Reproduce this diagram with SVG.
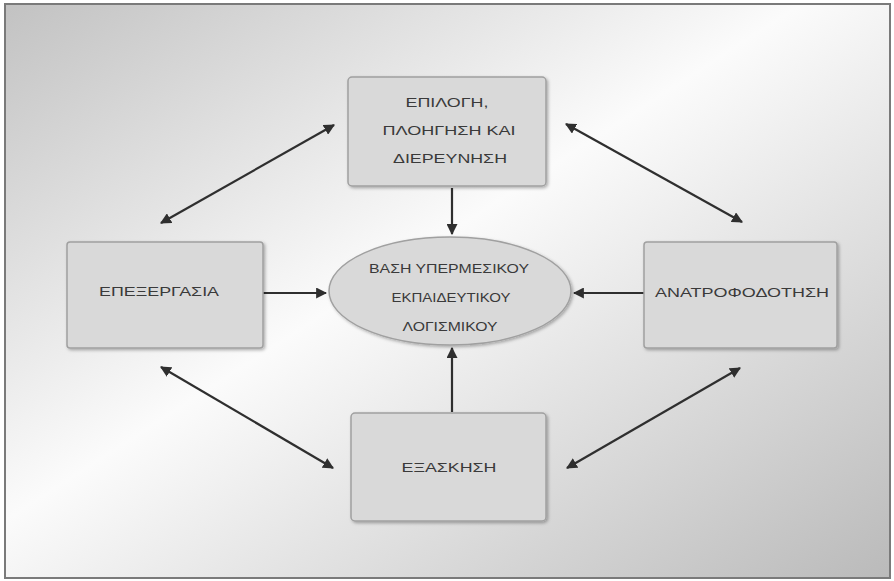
<svg xmlns="http://www.w3.org/2000/svg" width="894" height="581" viewBox="0 0 894 581">
<defs>
<linearGradient id="bg" x1="0" y1="0" x2="1" y2="1">
<stop offset="0" stop-color="#c2c2c2"/>
<stop offset="0.45" stop-color="#fbfbfb"/>
<stop offset="1" stop-color="#bababa"/>
</linearGradient>
<filter id="sh" x="-10%" y="-10%" width="120%" height="120%">
<feDropShadow dx="1.5" dy="1.5" stdDeviation="1.5" flood-color="#000" flood-opacity="0.3"/>
</filter>
<marker id="ah" viewBox="0 0 10 10" refX="9" refY="5" markerWidth="5" markerHeight="5" orient="auto-start-reverse" markerUnits="strokeWidth">
<path d="M0,0 L10,5 L0,10 Z" fill="#2f2f2f"/>
</marker>
</defs>
<style>
.box{fill:#d9d9d9;stroke:#a0a0a0;stroke-width:1.5;filter:url(#sh)}
.t{font-family:"Liberation Sans",Arial,sans-serif;font-size:12px;fill:#3a3a3a;text-anchor:middle;dominant-baseline:central}
.c{stroke:#2f2f2f;stroke-width:2.2;fill:none}
</style>
<rect x="0" y="0" width="894" height="581" fill="#ffffff"/>
<rect x="5" y="4" width="885" height="574" fill="url(#bg)" stroke="#7a7a7a" stroke-width="2"/>

<g id="connectors">
<line class="c" x1="452" y1="188" x2="452" y2="234" marker-end="url(#ah)"/>
<line class="c" x1="452" y1="412" x2="452" y2="348" marker-end="url(#ah)"/>
<line class="c" x1="263" y1="293" x2="326" y2="293" marker-end="url(#ah)"/>
<line class="c" x1="644" y1="293" x2="574" y2="293" marker-end="url(#ah)"/>
<line class="c" x1="161" y1="223" x2="334" y2="125" marker-start="url(#ah)" marker-end="url(#ah)"/>
<line class="c" x1="566" y1="124" x2="742" y2="222" marker-start="url(#ah)" marker-end="url(#ah)"/>
<line class="c" x1="161" y1="367" x2="333" y2="468" marker-start="url(#ah)" marker-end="url(#ah)"/>
<line class="c" x1="567" y1="468" x2="740" y2="368" marker-start="url(#ah)" marker-end="url(#ah)"/>
</g>

<g id="node-top">
<rect class="box" x="348" y="77" width="198" height="109" rx="4"/>
<text class="t" x="447" y="103" textLength="83" lengthAdjust="spacingAndGlyphs">ΕΠΙΛΟΓΗ,</text>
<text class="t" x="449" y="131" textLength="133" lengthAdjust="spacingAndGlyphs">ΠΛΟΗΓΗΣΗ ΚΑΙ</text>
<text class="t" x="450" y="159" textLength="114" lengthAdjust="spacingAndGlyphs">ΔΙΕΡΕΥΝΗΣΗ</text>
</g>

<g id="node-left">
<rect class="box" x="67" y="242" width="196" height="106" rx="3"/>
<text class="t" x="159" y="292" textLength="120" lengthAdjust="spacingAndGlyphs">ΕΠΕΞΕΡΓΑΣΙΑ</text>
</g>

<g id="node-center">
<ellipse class="box" cx="450" cy="291" rx="121" ry="54"/>
<text class="t" x="449" y="269" textLength="160" lengthAdjust="spacingAndGlyphs">ΒΑΣΗ ΥΠΕΡΜΕΣΙΚΟΥ</text>
<text class="t" x="451" y="298" textLength="119" lengthAdjust="spacingAndGlyphs">ΕΚΠΑΙΔΕΥΤΙΚΟΥ</text>
<text class="t" x="450" y="327" textLength="95" lengthAdjust="spacingAndGlyphs">ΛΟΓΙΣΜΙΚΟΥ</text>
</g>

<g id="node-right">
<rect class="box" x="644" y="242" width="193" height="106" rx="3"/>
<text class="t" x="742" y="293" textLength="174" lengthAdjust="spacingAndGlyphs">ΑΝΑΤΡΟΦΟΔΟΤΗΣΗ</text>
</g>

<g id="node-bottom">
<rect class="box" x="351" y="413" width="195" height="108" rx="4"/>
<text class="t" x="449" y="468" textLength="95" lengthAdjust="spacingAndGlyphs">ΕΞΑΣΚΗΣΗ</text>
</g>
</svg>
